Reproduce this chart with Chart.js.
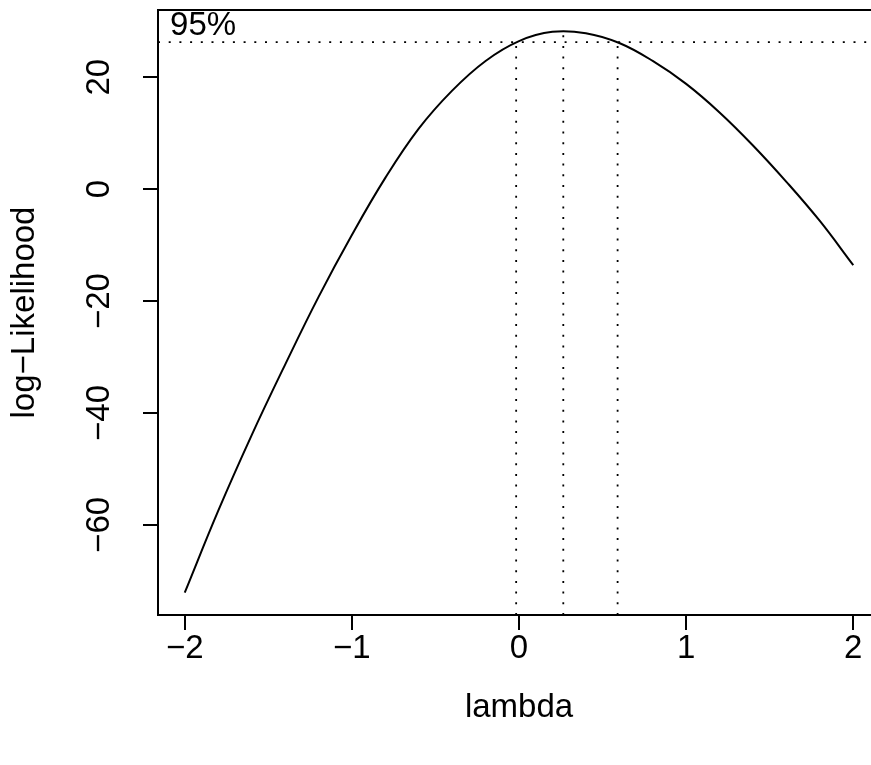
<!DOCTYPE html>
<html>
<head>
<meta charset="utf-8">
<script src="https://cdn.jsdelivr.net/npm/chart.js@4.4.1/dist/chart.umd.min.js"></script>
<style>
  html, body { margin: 0; padding: 0; background: #fff; overflow: hidden; }
  canvas { display: block; }
</style>
</head>
<body>
<canvas id="boxcoxChart" width="890" height="765"></canvas>
<script>
// profile log-likelihood over the Box-Cox lambda grid
const lambdaGrid = [-2.0, -1.8, -1.6, -1.4, -1.2, -1.0, -0.8, -0.6, -0.4, -0.2, 0.0,
                    0.2, 0.4, 0.6, 0.8, 1.0, 1.2, 1.4, 1.6, 1.8, 2.0];
const logLik = [-72.1, -57.5, -44.0, -31.4, -19.3, -8.2, 2.0, 10.8, 17.6, 22.9, 26.45,
                28.1, 27.85, 26.1, 22.9, 18.8, 13.7, 7.8, 1.3, -5.7, -13.6];

// maximum and 95% interval
const mleLambda = 0.265;
const mleLogLik = 28.2;
const ciLambda = [-0.017, 0.59];
const ciLogLik = 26.25;

const xTicks = [-2, -1, 0, 1, 2];
const yTicks = [-60, -40, -20, 0, 20];
const xLimits = [-2.16, 2.16];
const yLimits = [-76.1, 32.0];

const ciText = "95%";
const ciTextAt = { x: -1.89, y: 29.1 };

const FONT = '"Liberation Sans", Arial, Helvetica, sans-serif';
const FONT_SIZE = 33;
const LINE_W = 2;

Chart.defaults.font.family = FONT;
Chart.defaults.font.size = FONT_SIZE;
Chart.defaults.color = "#000";

function fmt(v) {
    return v < 0 ? "\u2212" + Math.abs(v) : String(v);
}

function dotted(points) {
    return {
        data: points,
        borderColor: "#000",
        borderWidth: 1.8,
        borderDash: [2, 8.7],
        borderCapStyle: "butt",
        pointRadius: 0,
        tension: 0,
        fill: false
    };
}

const curve = lambdaGrid.map((x, i) => ({ x: x, y: logLik[i] }));

const datasets = [
    {
        data: curve,
        borderColor: "#000",
        borderWidth: LINE_W,
        pointRadius: 0,
        tension: 0.4,
        fill: false
    },
    dotted([{ x: xLimits[0], y: ciLogLik }, { x: xLimits[1], y: ciLogLik }]),
    dotted([{ x: ciLambda[0], y: yLimits[0] }, { x: ciLambda[0], y: ciLogLik }]),
    dotted([{ x: mleLambda, y: yLimits[0] }, { x: mleLambda, y: mleLogLik }]),
    dotted([{ x: ciLambda[1], y: yLimits[0] }, { x: ciLambda[1], y: ciLogLik }])
];

// box around the plot region, rotated y labels and the 95% note
const framePlugin = {
    id: "frame",
    afterDraw(chart) {
        const { ctx, chartArea: a, scales } = chart;
        ctx.save();
        ctx.strokeStyle = "#000";
        ctx.lineWidth = LINE_W;
        ctx.strokeRect(a.left, a.top, a.right - a.left, a.bottom - a.top);

        ctx.fillStyle = "#000";
        ctx.font = FONT_SIZE + "px " + FONT;
        ctx.textAlign = "center";
        ctx.textBaseline = "middle";
        scales.y.ticks.forEach(t => {
            const py = scales.y.getPixelForValue(t.value);
            ctx.save();
            ctx.translate(a.left - 58, py);
            ctx.rotate(-Math.PI / 2);
            ctx.fillText(fmt(t.value), 0, 0);
            ctx.restore();
        });

        ctx.fillText(ciText,
            scales.x.getPixelForValue(ciTextAt.x),
            scales.y.getPixelForValue(ciTextAt.y));
        ctx.restore();
    }
};

new Chart(document.getElementById("boxcoxChart"), {
    type: "line",
    data: { datasets: datasets },
    plugins: [framePlugin],
    options: {
        responsive: false,
        animation: false,
        events: [],
        layout: { padding: { top: 10, right: 10, left: 0, bottom: 0 } },
        plugins: { legend: { display: false }, tooltip: { enabled: false } },
        scales: {
            x: {
                type: "linear",
                position: "bottom",
                min: xLimits[0],
                max: xLimits[1],
                afterBuildTicks: s => { s.ticks = xTicks.map(v => ({ value: v })); },
                afterFit: s => { s.height = 150; },
                border: { display: false },
                grid: {
                    drawOnChartArea: false,
                    drawTicks: true,
                    tickLength: 15,
                    color: "#000",
                    lineWidth: LINE_W
                },
                ticks: {
                    autoSkip: false,
                    maxRotation: 0,
                    padding: -1,
                    callback: v => fmt(v)
                },
                title: {
                    display: true,
                    text: "lambda",
                    padding: { top: 0, bottom: 37 }
                }
            },
            y: {
                type: "linear",
                position: "left",
                min: yLimits[0],
                max: yLimits[1],
                afterBuildTicks: s => { s.ticks = yTicks.map(v => ({ value: v })); },
                afterFit: s => { s.width = 158; },
                border: { display: false },
                grid: {
                    drawOnChartArea: false,
                    drawTicks: true,
                    tickLength: 15,
                    color: "#000",
                    lineWidth: LINE_W
                },
                ticks: { display: false },
                title: {
                    display: true,
                    text: "log\u2212Likelihood",
                    padding: { top: 5, bottom: 0 }
                }
            }
        }
    }
});
</script>
</body>
</html>
